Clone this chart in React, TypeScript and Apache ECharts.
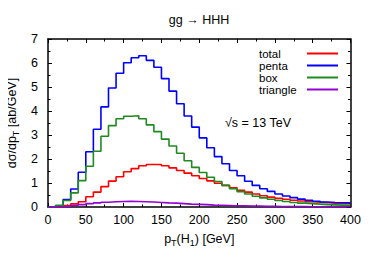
import React, { useEffect, useRef } from "react";
import * as echarts from "echarts";

const FONT = "'Liberation Sans', Arial, Helvetica, sans-serif";

const binEdges = [
  0, 10, 20, 30, 40, 50, 60, 70, 80, 90,
  100, 110, 120, 130, 140, 150, 160, 170, 180, 190,
  200, 210, 220, 230, 240, 250, 260, 270, 280, 290,
  300, 310, 320, 330, 340, 350, 360, 370, 380, 390,
];
const binEnd = 400;

const totalVals = [
  0.0, 0.02, 0.06, 0.13, 0.22, 0.43, 0.62, 0.85, 1.08, 1.26,
  1.47, 1.6, 1.72, 1.77, 1.77, 1.72, 1.63, 1.52, 1.41, 1.3,
  1.19, 1.09, 0.99, 0.9, 0.8, 0.7, 0.62, 0.54, 0.47, 0.41,
  0.36, 0.32, 0.28, 0.25, 0.22, 0.2, 0.18, 0.16, 0.15, 0.14,
];
const pentaVals = [
  0.0, 0.06, 0.31, 0.75, 1.45, 2.3, 3.24, 4.17, 4.96, 5.57,
  6.01, 6.22, 6.3, 6.11, 5.82, 5.35, 4.83, 4.3, 3.79, 3.33,
  2.88, 2.47, 2.1, 1.8, 1.52, 1.3, 1.07, 0.9, 0.76, 0.65,
  0.54, 0.46, 0.39, 0.33, 0.28, 0.24, 0.21, 0.19, 0.18, 0.17,
];
const boxVals = [
  0.0, 0.06, 0.27, 0.59, 1.1, 1.7, 2.32, 2.95, 3.39, 3.68,
  3.78, 3.8, 3.68, 3.42, 3.14, 2.83, 2.54, 2.24, 1.93, 1.65,
  1.44, 1.24, 1.06, 0.9, 0.76, 0.64, 0.54, 0.45, 0.38, 0.32,
  0.27, 0.23, 0.19, 0.16, 0.14, 0.12, 0.1, 0.09, 0.08, 0.07,
];
const triangleVals = [
  0.0, 0.01, 0.03, 0.06, 0.1, 0.14, 0.17, 0.2, 0.22, 0.23,
  0.24, 0.23, 0.22, 0.21, 0.19, 0.17, 0.16, 0.14, 0.12, 0.11,
  0.1, 0.08, 0.07, 0.06, 0.05, 0.05, 0.04, 0.04, 0.03, 0.03,
  0.02, 0.02, 0.02, 0.02, 0.01, 0.01, 0.01, 0.01, 0.01, 0.01,
];

const seriesDefs = [
  { name: "total", values: totalVals, color: "#ff0000" },
  { name: "penta", values: pentaVals, color: "#0000ff" },
  { name: "box", values: boxVals, color: "#1f8a1f" },
  { name: "triangle", values: triangleVals, color: "#9400d3" },
];

const xTicks = { min: 0, max: 400, interval: 50 };
const yTicks = { min: 0, max: 7, interval: 1 };

function histData(values: number[]) {
  const pts = binEdges.map((x, i) => [x, values[i]]);
  pts.push([binEnd, values[values.length - 1]]);
  return pts;
}

export default function App() {
  const ref = useRef<HTMLDivElement>(null);

  useEffect(() => {
    if (!ref.current) return;
    const chart = echarts.init(ref.current, undefined, { renderer: "svg" });

    const axisLine = { show: true, onZero: false, lineStyle: { color: "#000", width: 1.5 } };
    const axisTick = { show: true, inside: true, length: 4, lineStyle: { color: "#000", width: 1 } };
    const minorTick = { show: true, splitNumber: 2, length: 2.5, lineStyle: { color: "#000", width: 1 } };
    const labelStyle = { color: "#000", fontSize: 12.5, fontFamily: FONT };
    const richName = {
      a: { fontSize: 12.5, lineHeight: 16, color: "#000", fontFamily: FONT },
      s: { fontSize: 9, verticalAlign: "bottom", color: "#000", fontFamily: FONT },
    };

    chart.setOption({
      animation: false,
      backgroundColor: "#fff",
      title: {
        text: "gg \u2192 HHH",
        left: 199,
        top: 13,
        padding: 0,
        textAlign: "center",
        textStyle: { fontSize: 12.5, fontWeight: "normal", color: "#000", fontFamily: FONT },
      },
      grid: {
        left: 48,
        right: 23.5,
        top: 39,
        bottom: 55,
        containLabel: false,
        outerBoundsMode: "none",
      },
      legend: {
        orient: "vertical",
        left: 259,
        top: 47.5,
        padding: 0,
        align: "right",
        itemGap: 0,
        itemWidth: 31,
        itemHeight: 2,
        icon: "rect",
        data: seriesDefs.map((s) => s.name),
        formatter: (name: string) => `{t|${name}}`,
        textStyle: {
          color: "#000",
          fontSize: 11.5,
          fontFamily: FONT,
          rich: {
            t: { width: 43, align: "left", fontSize: 11.5, lineHeight: 11.4, color: "#000", fontFamily: FONT },
          },
        },
      },
      graphic: [
        {
          type: "text",
          left: 225,
          top: 116,
          style: { text: "\u221as = 13 TeV", fontSize: 12.5, fill: "#000", fontFamily: FONT },
        },
      ],
      xAxis: [
        {
          type: "value",
          ...xTicks,
          position: "bottom",
          axisLine,
          axisTick,
          minorTick,
          splitLine: { show: false },
          axisLabel: { ...labelStyle, margin: 6 },
          name: "{a|p}{s|T}{a|(H}{s|1}{a|) [GeV]}",
          nameLocation: "middle",
          nameGap: 24,
          nameTextStyle: { ...labelStyle, rich: richName },
        },
        {
          type: "value",
          ...xTicks,
          position: "top",
          axisLine,
          axisTick,
          minorTick,
          splitLine: { show: false },
          axisLabel: { show: false },
        },
      ],
      yAxis: [
        {
          type: "value",
          ...yTicks,
          position: "left",
          axisLine,
          axisTick,
          minorTick,
          splitLine: { show: false },
          axisLabel: { ...labelStyle, margin: 10 },
          name: "{a|d\u03c3/dp}{s|T}{a| [ab/GeV]}",
          nameLocation: "middle",
          nameGap: 27,
          nameTextStyle: { ...labelStyle, rich: richName },
        },
        {
          type: "value",
          ...yTicks,
          position: "right",
          axisLine,
          axisTick,
          minorTick,
          splitLine: { show: false },
          axisLabel: { show: false },
        },
      ],
      series: seriesDefs.map((s) => ({
        name: s.name,
        type: "line",
        step: "end",
        xAxisIndex: 0,
        yAxisIndex: 0,
        showSymbol: false,
        symbol: "none",
        data: histData(s.values),
        lineStyle: { color: s.color, width: 1.6 },
        itemStyle: { color: s.color },
      })),
    });

    return () => chart.dispose();
  }, []);

  return <div ref={ref} style={{ width: 374, height: 262, margin: -8 }} />;
}
